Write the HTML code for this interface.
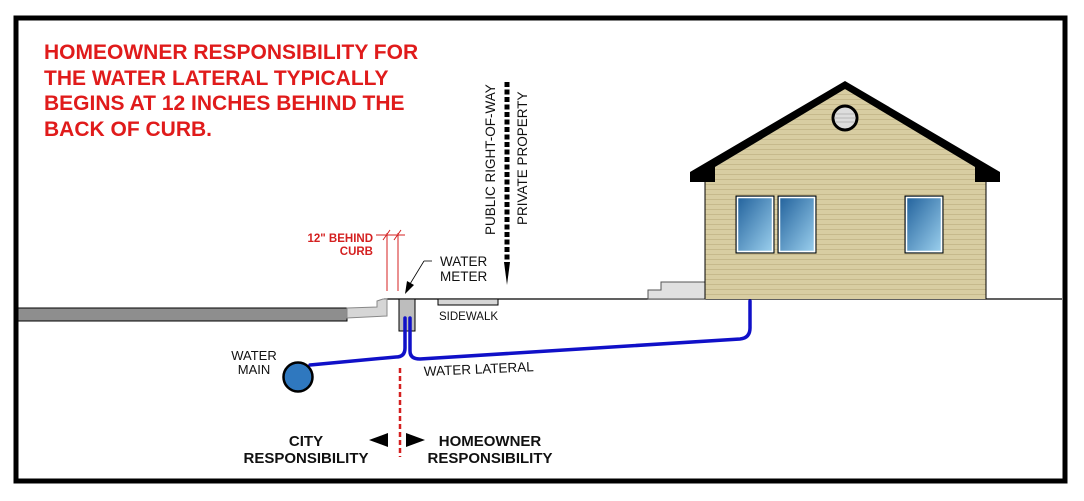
<!DOCTYPE html>
<html><head><meta charset="utf-8"><style>
html,body{margin:0;padding:0;background:#fff;}
svg{display:block;font-family:"Liberation Sans",Arial,sans-serif;}
</style></head><body>
<svg width="1084" height="501" viewBox="0 0 1084 501" xmlns="http://www.w3.org/2000/svg">
<defs>
<linearGradient id="win" x1="0" y1="0" x2="1" y2="1">
<stop offset="0" stop-color="#1f5f9a"/><stop offset="1" stop-color="#9fd3f0"/>
</linearGradient>
<pattern id="siding" width="6" height="5" patternUnits="userSpaceOnUse">
<rect width="6" height="5" fill="#d8cda2"/><rect y="4" width="6" height="1" fill="#c6b98c"/>
</pattern>
</defs>
<rect x="16" y="18" width="1049" height="463" fill="#fff" stroke="#000" stroke-width="5"/>

<g fill="#e01b1b" font-weight="bold" font-size="21">
<text x="44" y="59">HOMEOWNER RESPONSIBILITY FOR</text>
<text x="44" y="85">THE WATER LATERAL TYPICALLY</text>
<text x="44" y="110">BEGINS AT 12 INCHES BEHIND THE</text>
<text x="44" y="136">BACK OF CURB.</text>
</g>

<line x1="384" y1="299" x2="1062" y2="299" stroke="#000" stroke-width="1.2"/>
<rect x="18" y="308" width="329" height="13" fill="#8e8e8e" stroke="#000" stroke-width="1"/>
<path d="M347 308 L377 307 L377 301 L383 299 L387 299 L387 316 L347 318 Z" fill="#d6d6d6" stroke="#888" stroke-width="1"/>
<rect x="438" y="299" width="60" height="6" fill="#d6d6d6" stroke="#000" stroke-width="1"/>
<text x="439" y="320" font-size="11.5" fill="#111">SIDEWALK</text>

<g stroke="#d42020" stroke-width="1">
<line x1="387" y1="233" x2="387" y2="291"/>
<line x1="398" y1="233" x2="398" y2="291"/>
<line x1="376" y1="235" x2="405" y2="235"/>
<line x1="383" y1="240" x2="390" y2="230"/>
<line x1="394" y1="240" x2="401" y2="230"/>
</g>
<g fill="#d42020" font-size="11.5" font-weight="bold" text-anchor="end">
<text x="373" y="242">12" BEHIND</text>
<text x="373" y="255">CURB</text>
</g>

<rect x="399" y="299" width="16" height="32" fill="#bdbdbd" stroke="#000" stroke-width="1"/>
<line x1="432" y1="261" x2="424" y2="261" stroke="#000" stroke-width="0.8"/>
<line x1="424" y1="261" x2="410" y2="284" stroke="#000" stroke-width="0.8"/>
<polygon points="405,294 407,281 414,285" fill="#000"/>
<g font-size="13.5" fill="#111"><text x="440" y="266">WATER</text><text x="440" y="281">METER</text></g>

<g fill="none" stroke="#1010c8" stroke-width="3.5" stroke-linecap="round">
<path d="M405 318 L405 348 Q405 357 396 357 L310 365"/>
<path d="M410 318 L410 351 Q410 359 420 359 L740 339 Q750 338 750 328 L750 301"/>
</g>
<circle cx="298" cy="377" r="14.5" fill="#2f78bf" stroke="#000" stroke-width="2.5"/>
<g font-size="13" fill="#111" text-anchor="middle"><text x="254" y="360">WATER</text><text x="254" y="374">MAIN</text></g>
<text x="424" y="376" font-size="13.5" fill="#111" transform="rotate(-2.5 424 376)">WATER LATERAL</text>

<line x1="400" y1="368" x2="400" y2="457" stroke="#d42020" stroke-width="2.5" stroke-dasharray="5,3"/>
<polygon points="369,440 388,433 388,447" fill="#000"/>
<polygon points="425,440 406,433 406,447" fill="#000"/>
<g font-size="15" font-weight="bold" fill="#111" text-anchor="middle">
<text x="306" y="446">CITY</text>
<text x="306" y="463">RESPONSIBILITY</text>
<text x="490" y="446">HOMEOWNER</text>
<text x="490" y="463">RESPONSIBILITY</text>
</g>

<line x1="507" y1="82" x2="507" y2="262" stroke="#000" stroke-width="5" stroke-dasharray="5,2.5"/>
<polygon points="504,262 510,262 507,285" fill="#000"/>
<g font-size="13.5" fill="#111">
<text transform="translate(495 235) rotate(-90)">PUBLIC RIGHT-OF-WAY</text>
<text transform="translate(527 225) rotate(-90)">PRIVATE PROPERTY</text>
</g>

<path d="M648 299 L648 290 L661 290 L661 282 L705 282 L705 299 Z" fill="#e0e0e0" stroke="#555" stroke-width="1"/>
<polygon points="705,299 705,175 715,167 845,88 975,167 986,175 986,299" fill="url(#siding)"/>
<line x1="705" y1="182" x2="705" y2="299" stroke="#000"/>
<line x1="986" y1="182" x2="986" y2="299" stroke="#000"/>
<path d="M690 172 L845 81 L1000 172 L1000 182 L975 182 L975 167 L845 89 L715 167 L715 182 L690 182 Z" fill="#000"/>
<circle cx="845" cy="118" r="12" fill="#ddd" stroke="#000" stroke-width="3"/>
<g stroke="#aaa" stroke-width="0.8"><line x1="835" y1="114" x2="855" y2="114"/><line x1="834" y1="118" x2="856" y2="118"/><line x1="835" y1="122" x2="855" y2="122"/></g>
<g fill="url(#win)" stroke="#000" stroke-width="1">
<rect x="736" y="196" width="38" height="57"/><rect x="778" y="196" width="38" height="57"/><rect x="905" y="196" width="38" height="57"/>
</g>
<g fill="none" stroke="#fff" stroke-width="1.5">
<rect x="737.5" y="197.5" width="35" height="54"/><rect x="779.5" y="197.5" width="35" height="54"/><rect x="906.5" y="197.5" width="35" height="54"/>
</g>
</svg>
</body></html>
